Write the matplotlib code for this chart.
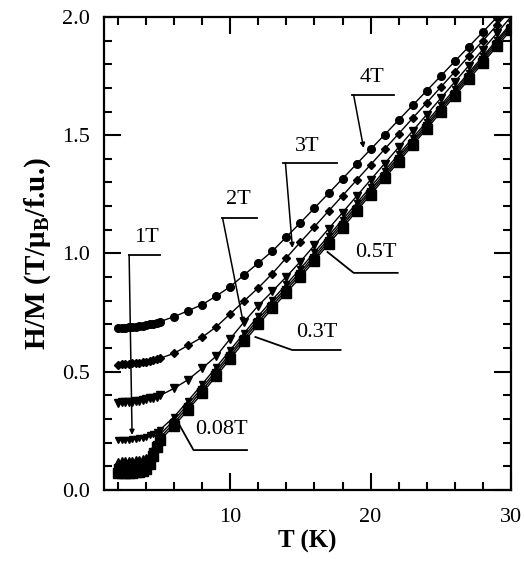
import matplotlib
matplotlib.use('Agg')
import matplotlib.pyplot as plt
from matplotlib.ticker import MultipleLocator

plt.rcParams['font.family'] = ['Liberation Serif', 'DejaVu Serif']
plt.rcParams['mathtext.fontset'] = 'custom'
plt.rcParams['mathtext.rm'] = 'Liberation Serif:bold'
plt.rcParams['mathtext.bf'] = 'Liberation Serif:bold'

# temperatures (K): dense sweep at low T, then 1 K steps
T_low = [2.0, 2.25, 2.5, 2.75, 3.0, 3.25, 3.5, 3.75, 4.0, 4.25, 4.5, 4.75, 5.0]
T_high = [6, 7, 8, 9, 10, 11, 12, 13, 14, 15, 16, 17, 18, 19, 20,
          21, 22, 23, 24, 25, 26, 27, 28, 29, 30]

# H/M (T/muB/f.u.)
hm_4T = [0.685, 0.686, 0.687, 0.688, 0.689, 0.690, 0.692, 0.694, 0.697, 0.700, 0.703, 0.707, 0.712,
         0.733, 0.758, 0.784, 0.820, 0.860, 0.910, 0.960, 1.010, 1.070, 1.130, 1.192, 1.254, 1.316,
         1.378, 1.440, 1.502, 1.564, 1.626, 1.688, 1.750, 1.812, 1.874, 1.936, 1.998, 2.060]
hm_3T = [0.530, 0.531, 0.532, 0.533, 0.535, 0.536, 0.538, 0.540, 0.543, 0.546, 0.549, 0.553, 0.557,
         0.578, 0.612, 0.646, 0.690, 0.745, 0.800, 0.855, 0.915, 0.982, 1.048, 1.113, 1.179, 1.244,
         1.310, 1.375, 1.441, 1.506, 1.572, 1.637, 1.703, 1.768, 1.834, 1.899, 1.965, 2.030]
hm_2T = [0.370, 0.371, 0.372, 0.373, 0.374, 0.376, 0.378, 0.380, 0.383, 0.387, 0.391, 0.395, 0.400,
         0.430, 0.467, 0.515, 0.566, 0.640, 0.712, 0.780, 0.840, 0.902, 0.966, 1.035, 1.104, 1.173,
         1.242, 1.311, 1.380, 1.449, 1.518, 1.587, 1.656, 1.725, 1.794, 1.862, 1.931, 2.000]
hm_1T = [0.210, 0.211, 0.212, 0.213, 0.215, 0.217, 0.219, 0.222, 0.226, 0.231, 0.237, 0.244, 0.255,
         0.310, 0.378, 0.448, 0.519, 0.592, 0.664, 0.736, 0.804, 0.870, 0.936, 1.005, 1.074, 1.143,
         1.212, 1.281, 1.350, 1.419, 1.488, 1.557, 1.626, 1.695, 1.764, 1.833, 1.902, 1.972]
hm_05T = [0.120, 0.121, 0.122, 0.123, 0.124, 0.126, 0.128, 0.131, 0.136, 0.150, 0.175, 0.205, 0.235,
          0.297, 0.364, 0.434, 0.505, 0.578, 0.651, 0.723, 0.791, 0.857, 0.923, 0.992, 1.062, 1.131,
          1.200, 1.269, 1.338, 1.408, 1.477, 1.546, 1.616, 1.685, 1.755, 1.825, 1.894, 1.964]
hm_03T = [0.095, 0.096, 0.096, 0.097, 0.098, 0.099, 0.101, 0.104, 0.110, 0.128, 0.160, 0.192, 0.222,
          0.285, 0.352, 0.422, 0.494, 0.567, 0.640, 0.712, 0.780, 0.846, 0.912, 0.981, 1.051, 1.120,
          1.190, 1.259, 1.328, 1.398, 1.468, 1.537, 1.607, 1.676, 1.746, 1.816, 1.885, 1.955]
hm_008T = [0.072, 0.072, 0.073, 0.073, 0.074, 0.075, 0.077, 0.080, 0.088, 0.110, 0.145, 0.180, 0.212,
           0.272, 0.340, 0.410, 0.482, 0.555, 0.628, 0.700, 0.768, 0.834, 0.900, 0.970, 1.040, 1.109,
           1.179, 1.249, 1.318, 1.388, 1.458, 1.527, 1.597, 1.666, 1.736, 1.806, 1.875, 1.945]

T_all = T_low + T_high

fig = plt.figure(figsize=(5.24, 5.62), dpi=100)
ax = fig.add_axes([0.1985, 0.128, 0.7765, 0.842])

series = [
    (hm_008T, 's', 7.0),
    (hm_03T, 's', 6.0),
    (hm_05T, '^', 5.5),
    (hm_1T, 'v', 5.0),
    (hm_2T, 'v', 5.5),
    (hm_3T, 'D', 4.5),
    (hm_4T, 'o', 5.5),
]
for vals, mk, ms in series:
    ax.plot(T_all, vals, color='black', lw=1.0, marker=mk, ms=ms, mec='black', mfc='black')

ax.set_xlim(1, 30)
ax.set_ylim(0, 2.0)
ax.xaxis.set_major_locator(MultipleLocator(10))
ax.xaxis.set_minor_locator(MultipleLocator(2))
ax.yaxis.set_major_locator(MultipleLocator(0.5))
ax.yaxis.set_minor_locator(MultipleLocator(0.1))
ax.yaxis.set_major_formatter(plt.FormatStrFormatter('%.1f'))
ax.tick_params(which='both', direction='in', top=True, right=True, width=1.5)
ax.tick_params(which='major', length=12, labelsize=16)
ax.tick_params(axis='x', which='major', pad=13)
ax.tick_params(axis='y', which='major', pad=10)
ax.tick_params(which='minor', length=6)
for sp in ax.spines.values():
    sp.set_linewidth(1.6)

ax.set_xlabel('T (K)', fontsize=18, fontweight='bold', labelpad=2)
ax.set_ylabel(r'H/M (T/μ$_{\mathrm{B}}$/f.u.)', fontsize=21, fontweight='bold', labelpad=7)

# field labels: (text, text pos, shelf line x-range, shelf y, start of pointer, pointer tip)
vert_labels = [
    ('1T', (4.0, 1.066), (2.79, 5.0), 0.994, 2.79, (3.0, 0.233)),
    ('2T', (10.57, 1.230), (9.43, 11.93), 1.150, 9.45, (10.93, 0.706)),
    ('3T', (15.5, 1.450), (13.79, 17.64), 1.383, 13.93, (14.43, 1.023)),
    ('4T', (20.07, 1.742), (18.71, 21.64), 1.670, 18.79, (19.5, 1.446)),
]
for txt, tpos, (x0, x1), ys, xs, tip in vert_labels:
    ax.text(tpos[0], tpos[1], txt, fontsize=16, ha='center', va='center')
    ax.plot([x0, x1], [ys, ys], color='black', lw=1.3)
    ax.annotate('', xy=tip, xytext=(xs, ys),
                arrowprops=dict(arrowstyle='-|>', color='black', lw=1.1,
                                mutation_scale=7, shrinkA=0, shrinkB=0))

knee_labels = [
    ('0.5T', (20.36, 1.002), (16.93, 1.006), (18.79, 0.918), 21.93),
    ('0.3T', (16.14, 0.668), (11.79, 0.647), (14.41, 0.592), 17.86),
    ('0.08T', (9.36, 0.254), (6.31, 0.282), (7.38, 0.169), 11.19),
]
for txt, tpos, tip, knee, xend in knee_labels:
    ax.text(tpos[0], tpos[1], txt, fontsize=16, ha='center', va='center')
    ax.plot([tip[0], knee[0], xend], [tip[1], knee[1], knee[1]], color='black', lw=1.3)

fig.savefig('out.png', dpi=100)
